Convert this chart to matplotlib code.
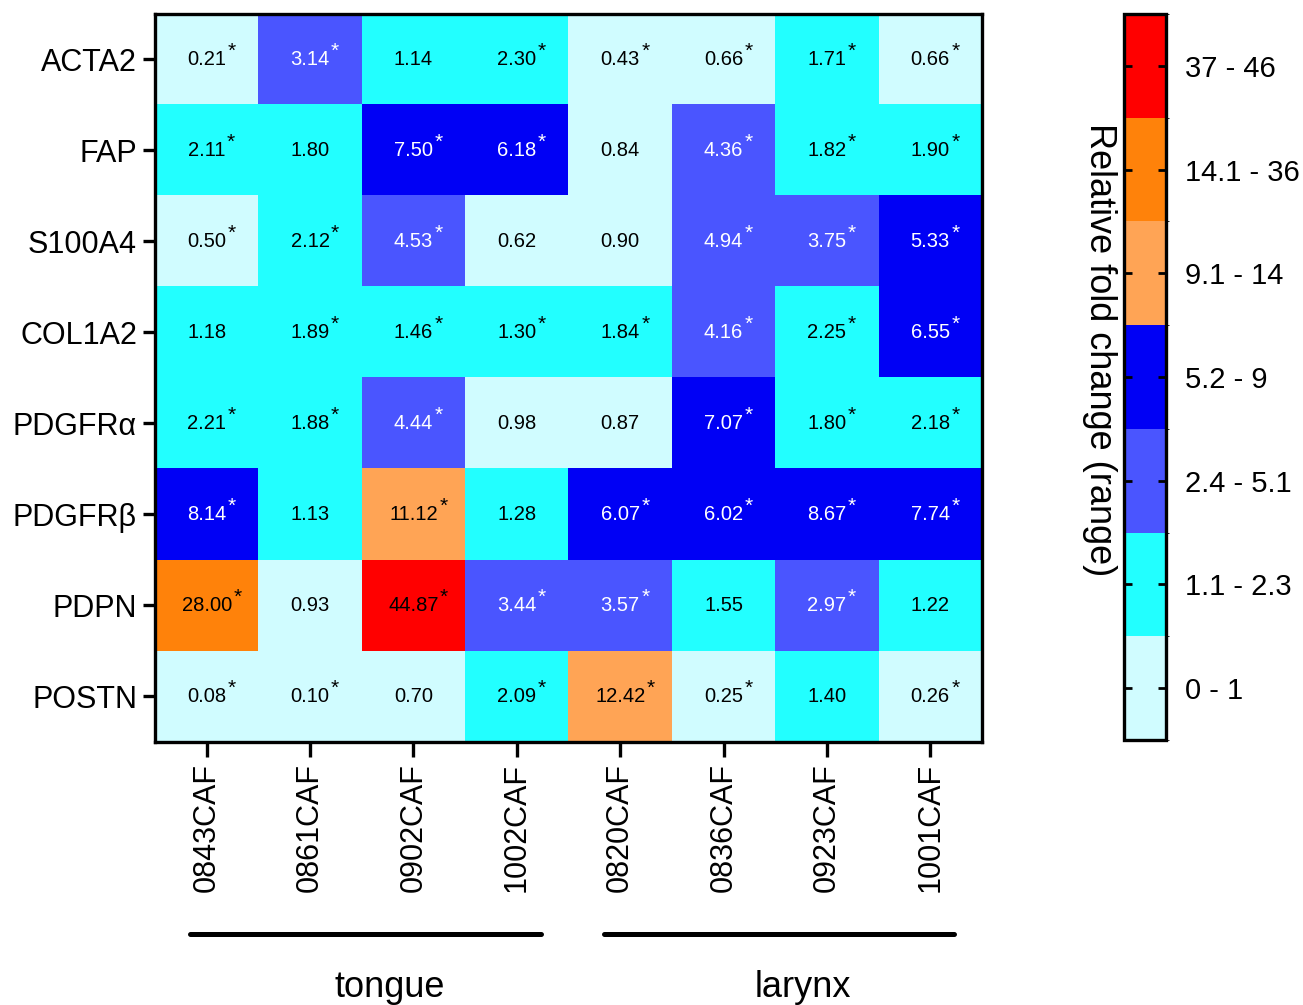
import numpy as np
import matplotlib
matplotlib.use("Agg")
import matplotlib.pyplot as plt
import matplotlib.transforms as mtransforms
from matplotlib.colors import ListedColormap, BoundaryNorm
import matplotlib.cm as cm

plt.rcParams['font.family'] = ['Liberation Sans', 'DejaVu Sans']

genes = ["ACTA2", "FAP", "S100A4", "COL1A2", "PDGFRα", "PDGFRβ", "PDPN", "POSTN"]
samples = ["0843CAF", "0861CAF", "0902CAF", "1002CAF",
           "0820CAF", "0836CAF", "0923CAF", "1001CAF"]

fold = np.array([
    [0.21, 3.14, 1.14, 2.30, 0.43, 0.66, 1.71, 0.66],
    [2.11, 1.80, 7.50, 6.18, 0.84, 4.36, 1.82, 1.90],
    [0.50, 2.12, 4.53, 0.62, 0.90, 4.94, 3.75, 5.33],
    [1.18, 1.89, 1.46, 1.30, 1.84, 4.16, 2.25, 6.55],
    [2.21, 1.88, 4.44, 0.98, 0.87, 7.07, 1.80, 2.18],
    [8.14, 1.13, 11.12, 1.28, 6.07, 6.02, 8.67, 7.74],
    [28.00, 0.93, 44.87, 3.44, 3.57, 1.55, 2.97, 1.22],
    [0.08, 0.10, 0.70, 2.09, 12.42, 0.25, 1.40, 0.26],
])

signif = np.array([
    [1, 1, 0, 1, 1, 1, 1, 1],
    [1, 0, 1, 1, 0, 1, 1, 1],
    [1, 1, 1, 0, 0, 1, 1, 1],
    [0, 1, 1, 1, 1, 1, 1, 1],
    [1, 1, 1, 0, 0, 1, 1, 1],
    [1, 0, 1, 0, 1, 1, 1, 1],
    [1, 0, 1, 1, 1, 0, 1, 0],
    [1, 1, 0, 1, 1, 1, 0, 1],
], dtype=bool)

bin_edges = [0, 1.05, 2.35, 5.15, 9.05, 14.05, 36.5, 46.5]
bin_labels = ["0 - 1", "1.1 - 2.3", "2.4 - 5.1", "5.2 - 9", "9.1 - 14", "14.1 - 36", "37 - 46"]
bin_colors = ["#d0fcff", "#22ffff", "#4a55ff", "#0000f5", "#ffa455", "#ff820a", "#ff0000"]
white_text_bins = [2, 3]

groups = [("tongue", 0, 3), ("larynx", 4, 7)]

cmap = ListedColormap(bin_colors)
norm = BoundaryNorm(bin_edges, cmap.N)

fig = plt.figure(figsize=(13.03, 10.05), dpi=100)
ax = fig.add_axes([0.119, 0.2617, 0.6346, 0.7244])
ax.imshow(fold, cmap=cmap, norm=norm, aspect="auto", interpolation="nearest")

for i in range(len(genes)):
    for j in range(len(samples)):
        v = fold[i, j]
        b = np.digitize(v, bin_edges) - 1
        col = "white" if b in white_text_bins else "black"
        t = ax.text(j, i, f"{v:.2f}", ha="center", va="center", fontsize=14.5, color=col)
        if signif[i, j]:
            ax.annotate("*", xy=(1.0, 0.45), xycoords=t, xytext=(1, 0),
                        textcoords="offset points", ha="left", va="bottom",
                        fontsize=15, color=col)

ax.set_xticks(range(len(samples)))
ax.set_xticklabels(samples, rotation=90, fontsize=22)
ax.set_yticks(range(len(genes)))
ax.set_yticklabels(genes, fontsize=22)
ax.tick_params(axis="both", width=2.4, length=9, pad=4)
ax.tick_params(axis="x", length=11)
for s in ax.spines.values():
    s.set_linewidth(2.4)

trans = mtransforms.blended_transform_factory(ax.transData, fig.transFigure)
for name, a, b in groups:
    ax.plot([a - 0.16, b + 0.23], [0.0706, 0.0706], transform=trans, color="black",
            lw=3.6, solid_capstyle="round", clip_on=False)
    ax.text((a + b) / 2 + 0.27, 0.017, name, transform=trans, ha="center", va="center",
            fontsize=26)

cax = fig.add_axes([0.8626, 0.2637, 0.0322, 0.7224])
sm = cm.ScalarMappable(norm=BoundaryNorm(np.arange(8), 7), cmap=cmap)
cb = fig.colorbar(sm, cax=cax, ticks=np.arange(7) + 0.5)
cb.set_ticklabels(bin_labels)
cb.outline.set_linewidth(2.4)
cax.tick_params(direction="in", left=True, right=True, length=6, width=2, labelsize=21, pad=14)
fig.text(0.8435, 0.652, "Relative fold change (range)", rotation=-90,
         ha="center", va="center", fontsize=26)

fig.savefig("out.png", dpi=100)
